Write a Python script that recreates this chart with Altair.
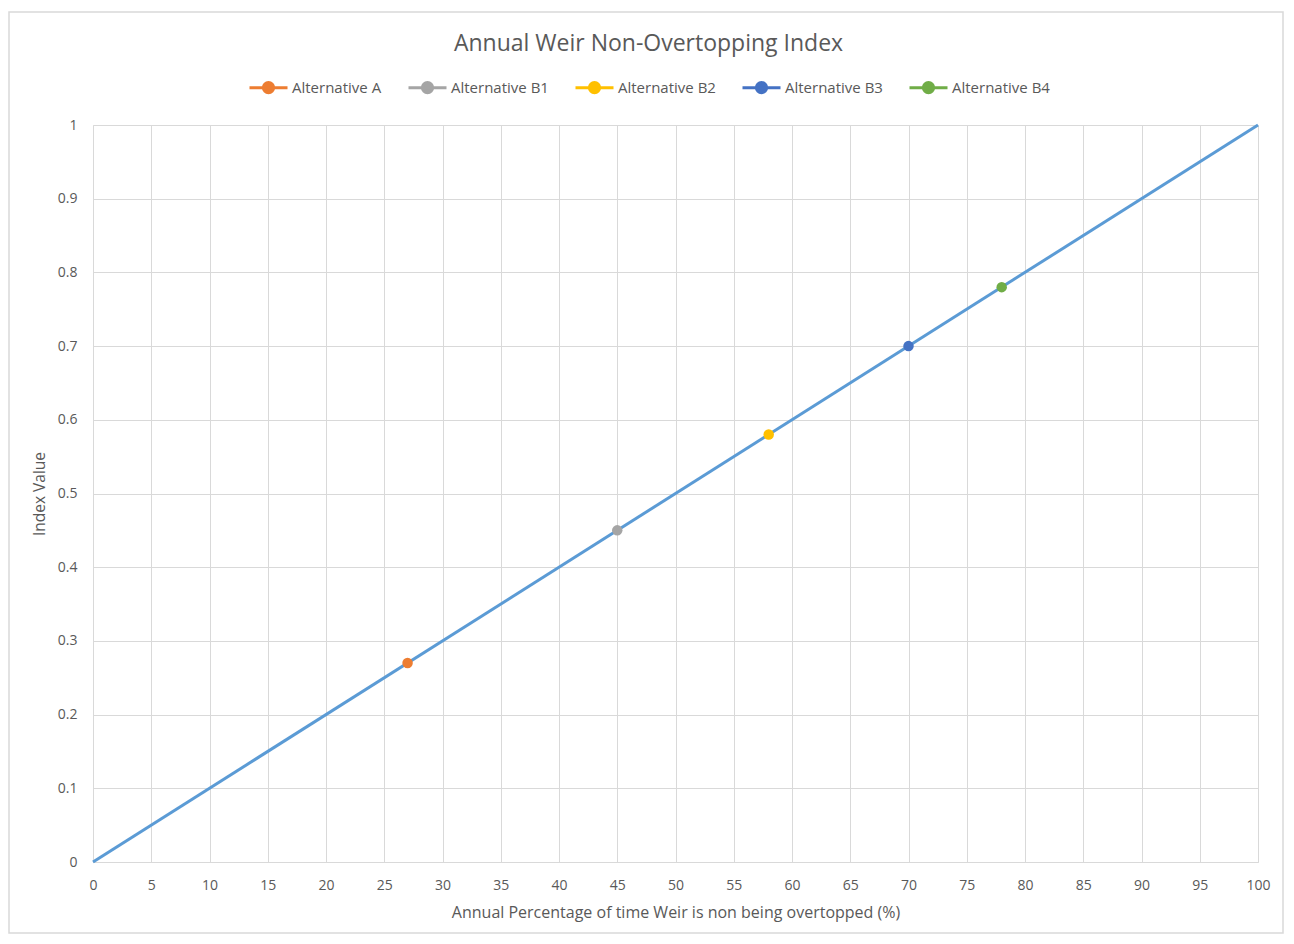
import altair as alt
import pandas as pd

line_x = [0, 100]
line_y = [0, 1]

series = ["Alternative A", "Alternative B1", "Alternative B2", "Alternative B3", "Alternative B4"]
pct = [27, 45, 58, 70, 78]
index_val = [0.27, 0.45, 0.58, 0.70, 0.78]
colors = ["#ED7D31", "#A5A5A5", "#FFC000", "#4472C4", "#70AD47"]

x_ticks = list(range(0, 101, 5))
y_ticks = [round(i * 0.1, 1) for i in range(11)]

FONT = "Open Sans"
GRAY = "#595959"

line_df = pd.DataFrame({"x": line_x, "y": line_y})
pts_df = pd.DataFrame({"Series": series, "x": pct, "y": index_val})

xscale = alt.Scale(domain=[0, 100], nice=False)
yscale = alt.Scale(domain=[0, 1], nice=False)

xaxis = alt.Axis(values=x_ticks, title="Annual Percentage of time Weir is non being overtopped (%)",
                 grid=True, gridColor="#D9D9D9", domainColor="#D9D9D9", ticks=False,
                 labelColor=GRAY, labelFontSize=14, labelPadding=16, labelFont=FONT,
                 labelFlush=False,
                 titleColor=GRAY, titleFontSize=16, titleFontWeight="normal", titleFont=FONT,
                 titlePadding=12, labelExpr="datum.value")
yaxis = alt.Axis(values=y_ticks, title="Index Value",
                 grid=True, gridColor="#D9D9D9", domainColor="#D9D9D9", ticks=False,
                 labelColor=GRAY, labelFontSize=14, labelPadding=16, labelFont=FONT,
                 labelFlush=False,
                 titleColor=GRAY, titleFontSize=15.5, titleFontWeight="normal", titleFont=FONT,
                 titlePadding=10, labelExpr="datum.value")

border = alt.Chart(pd.DataFrame({"a": [0]})).mark_rect(
    fill=None, stroke="#D9D9D9", strokeWidth=1.5
).encode(x=alt.value(-84), x2=alt.value(1190), y=alt.value(-113), y2=alt.value(808))

line = alt.Chart(line_df).mark_line(color="#5B9BD5", strokeWidth=3).encode(
    x=alt.X("x:Q", scale=xscale, axis=xaxis),
    y=alt.Y("y:Q", scale=yscale, axis=yaxis),
)

legend_shape = "M -1 0 L 1 0 M 0.27 0 A 0.27 0.27 0 1 1 -0.27 0 A 0.27 0.27 0 1 1 0.27 0"

cscale = alt.Scale(domain=series, range=colors)
leg = alt.Legend(
    title=None, orient="none", direction="horizontal",
    legendX=155, legendY=-58,
    symbolType=legend_shape, symbolSize=1444, symbolStrokeWidth=3,
    labelFont=FONT, labelFontSize=15, labelColor=GRAY,
    labelOffset=3, columnPadding=20, symbolOpacity=1,
)

points = alt.Chart(pts_df).mark_point(opacity=1, size=110, strokeWidth=0.01).encode(
    x=alt.X("x:Q", scale=xscale),
    y=alt.Y("y:Q", scale=yscale),
    fill=alt.Fill("Series:N", scale=cscale, legend=leg),
    stroke=alt.Stroke("Series:N", scale=cscale, legend=leg),
)

chart = alt.layer(border, line, points).properties(
    width=1165, height=737,
    title=alt.TitleParams("Annual Weir Non-Overtopping Index", font=FONT, fontSize=23,
                          fontWeight="normal", color=GRAY, anchor="middle", dx=-27,
                          offset=5, dy=50),
    autosize=alt.AutoSizeParams(type="none"),
    padding={"left": 85, "top": 117, "right": 28, "bottom": 74},
).configure_view(stroke=None)

chart.save("out.html", embed_options={"renderer": "svg", "actions": False})
